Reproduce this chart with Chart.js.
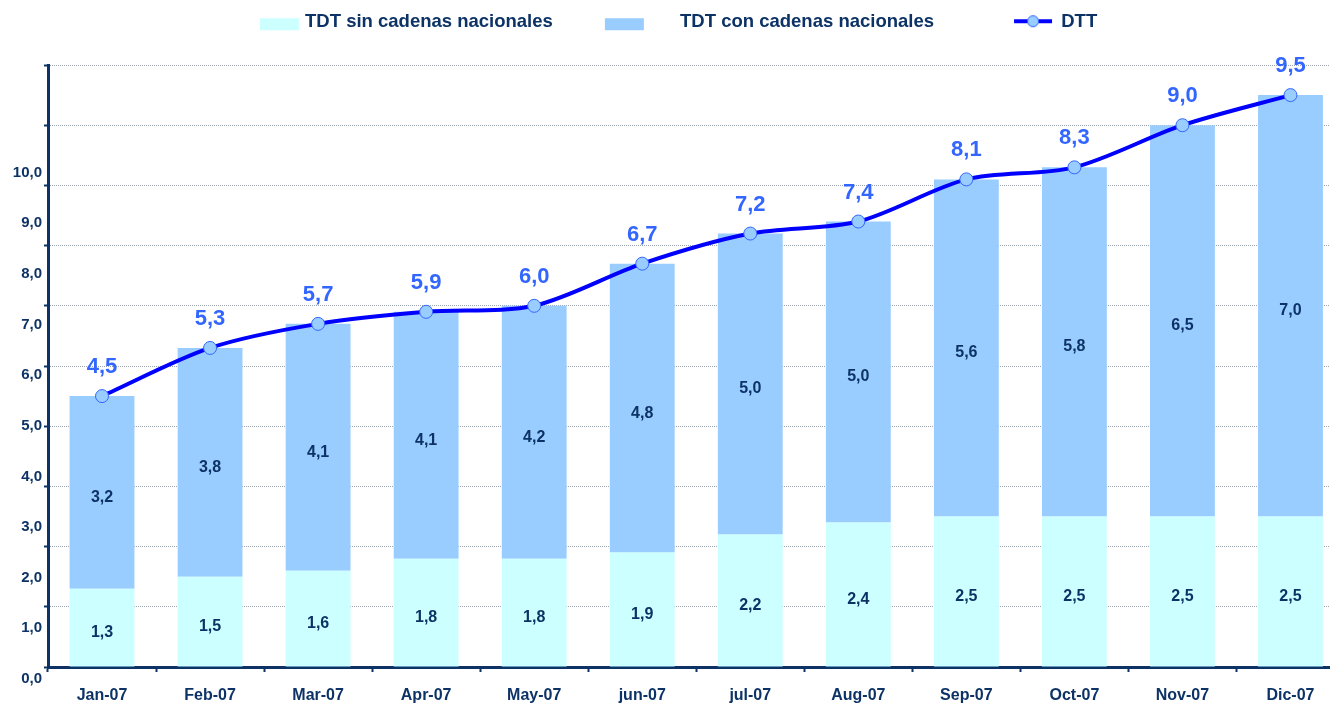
<!DOCTYPE html>
<html>
<head>
<meta charset="utf-8">
<script src="https://cdn.jsdelivr.net/npm/chart.js@4"></script>
<style>
  html, body { margin: 0; padding: 0; background: #fff; overflow: hidden; }
  #wrap { position: absolute; left: -67px; top: 0; width: 1419px; height: 705px; }
</style>
</head>
<body>
<div id="wrap"><canvas id="chart"></canvas></div>
<script>
/* ================= DATA ================= */
const months = ["Jan-07", "Feb-07", "Mar-07", "Apr-07", "May-07", "jun-07", "jul-07", "Aug-07", "Sep-07", "Oct-07", "Nov-07", "Dic-07"];
const sinCadenas = [1.3, 1.5, 1.6, 1.8, 1.8, 1.9, 2.2, 2.4, 2.5, 2.5, 2.5, 2.5];
const conCadenas = [3.2, 3.8, 4.1, 4.1, 4.2, 4.8, 5.0, 5.0, 5.6, 5.8, 6.5, 7.0];
const dtt = [4.5, 5.3, 5.7, 5.9, 6.0, 6.7, 7.2, 7.4, 8.1, 8.3, 9.0, 9.5];
const yTickLabels = ["0,0", "1,0", "2,0", "3,0", "4,0", "5,0", "6,0", "7,0", "8,0", "9,0", "10,0"];

const NAVY = "#0d3366";
const FONT = '"Liberation Sans", Arial, sans-serif';

function fmt(v) {
    return v.toFixed(1).replace(".", ",");
}

/* ================= LEGEND ICONS ================= */
// icon is drawn centred on the legend box (108 wide), canvas has 11px spare each side
function rectIcon(color, left) {
    const c = document.createElement("canvas");
    c.width = 130; c.height = 24;
    const g = c.getContext("2d");
    g.fillStyle = color;
    g.fillRect(left + 11, 8, 39, 12);
    return c;
}

function lineIcon(left) {
    const c = document.createElement("canvas");
    c.width = 130; c.height = 24;
    const g = c.getContext("2d");
    g.strokeStyle = "#0000ff";
    g.lineWidth = 4;
    g.beginPath();
    g.moveTo(left + 11, 11);
    g.lineTo(left + 11 + 38, 11);
    g.stroke();
    g.beginPath();
    g.arc(left + 11 + 19, 11, 5.5, 0, Math.PI * 2);
    g.fillStyle = "#99ccff";
    g.fill();
    g.lineWidth = 1;
    g.strokeStyle = "#3366ff";
    g.stroke();
    return c;
}

const legendIcons = [rectIcon("#ccffff", 72), rectIcon("#99ccff", 42), lineIcon(70)];

/* ================= VALUE LABELS ================= */
const valueLabels = {
    id: "valueLabels",
    afterDatasetsDraw(chart) {
        const ctx = chart.ctx;
        ctx.save();
        ctx.textAlign = "center";
        ctx.textBaseline = "middle";
        chart.data.datasets.forEach((ds, i) => {
            const meta = chart.getDatasetMeta(i);
            meta.data.forEach((el, j) => {
                const txt = fmt(ds.data[j]);
                if (meta.type === "bar") {
                    ctx.font = "bold 16px " + FONT;
                    ctx.fillStyle = NAVY;
                    ctx.fillText(txt, el.x, (el.y + el.base) / 2 + 5);
                } else {
                    ctx.font = "bold 22px " + FONT;
                    ctx.fillStyle = "#3366ff";
                    ctx.fillText(txt, el.x, el.y - 29);
                }
            });
        });
        ctx.restore();
    }
};

/* ================= CHART ================= */
Chart.defaults.font.family = FONT;
Chart.defaults.color = NAVY;

new Chart(document.getElementById("chart"), {
    type: "bar",
    data: {
        labels: months,
        datasets: [
            {
                label: "TDT sin cadenas nacionales",
                data: sinCadenas,
                backgroundColor: "#ccffff",
                stack: "bars",
                order: 1,
                xAxisID: "x",
                yAxisID: "y",
                barPercentage: 0.6,
                categoryPercentage: 1
            },
            {
                label: "TDT con cadenas nacionales",
                data: conCadenas,
                backgroundColor: "#99ccff",
                stack: "bars",
                order: 1,
                xAxisID: "x",
                yAxisID: "y",
                barPercentage: 0.6,
                categoryPercentage: 1
            },
            {
                type: "line",
                label: "DTT",
                data: dtt,
                stack: "line",
                order: 0,
                xAxisID: "x",
                yAxisID: "y",
                borderColor: "#0000ff",
                borderWidth: 4,
                tension: 0.3,
                pointRadius: 6.5,
                pointBackgroundColor: "#99ccff",
                pointBorderColor: "#3366ff",
                pointBorderWidth: 1
            }
        ]
    },
    options: {
        responsive: true,
        maintainAspectRatio: false,
        animation: false,
        layout: { padding: { top: 3, left: 0, right: 0, bottom: 0 } },
        plugins: {
            tooltip: { enabled: false },
            legend: {
                position: "top",
                labels: {
                    usePointStyle: true,
                    pointStyleWidth: 108,
                    padding: 10,
                    color: NAVY,
                    font: { size: 18.5, weight: "bold" },
                    generateLabels(chart) {
                        return chart.data.datasets.map((ds, i) => ({
                            text: ds.label,
                            datasetIndex: i,
                            pointStyle: legendIcons[i],
                            fontColor: NAVY,
                            fillStyle: "transparent",
                            strokeStyle: "transparent",
                            lineWidth: 0,
                            hidden: false
                        }));
                    }
                }
            }
        },
        scales: {
            x: {
                type: "category",
                position: "bottom",
                stacked: true,
                offset: true,
                afterFit(s) { s.height = 38; },
                grid: {
                    offset: true,
                    drawOnChartArea: false,
                    drawTicks: true,
                    tickLength: 5,
                    tickWidth: 2,
                    tickColor: NAVY
                },
                border: { color: NAVY, width: 3 },
                ticks: {
                    autoSkip: false,
                    maxRotation: 0,
                    padding: 14,
                    color: NAVY,
                    font: { size: 16, weight: "bold" }
                }
            },
            xTop: {
                type: "linear",
                position: "top",
                display: true,
                afterFit(s) { s.height = 23.5; },
                grid: { display: false, drawTicks: false },
                border: { display: false },
                ticks: { display: false }
            },
            y: {
                type: "linear",
                position: "left",
                stacked: true,
                min: 0,
                max: 10,
                weight: 0,
                afterFit(s) { s.width = 5; },
                grid: {
                    color: "#9aa5b0",
                    lineWidth: 1,
                    drawTicks: true,
                    tickLength: 4,
                    tickWidth: 2,
                    tickColor: NAVY
                },
                border: { color: NAVY, width: 3, dash: [1, 1] },
                ticks: { display: false, stepSize: 1 }
            },
            // tick labels of the original sit on their own (tighter) spacing
            yLabels: {
                type: "linear",
                position: "left",
                min: 0,
                max: 11.885,
                weight: 1,
                afterFit(s) { s.width = 110; },
                grid: { display: false, drawTicks: false },
                border: { display: false },
                ticks: {
                    stepSize: 1,
                    padding: 1,
                    labelOffset: 12,
                    color: NAVY,
                    font: { size: 15, weight: "bold" },
                    callback: v => (Number.isInteger(v) && v < yTickLabels.length) ? yTickLabels[v] : ""
                }
            }
        }
    },
    plugins: [valueLabels]
});
</script>
</body>
</html>
